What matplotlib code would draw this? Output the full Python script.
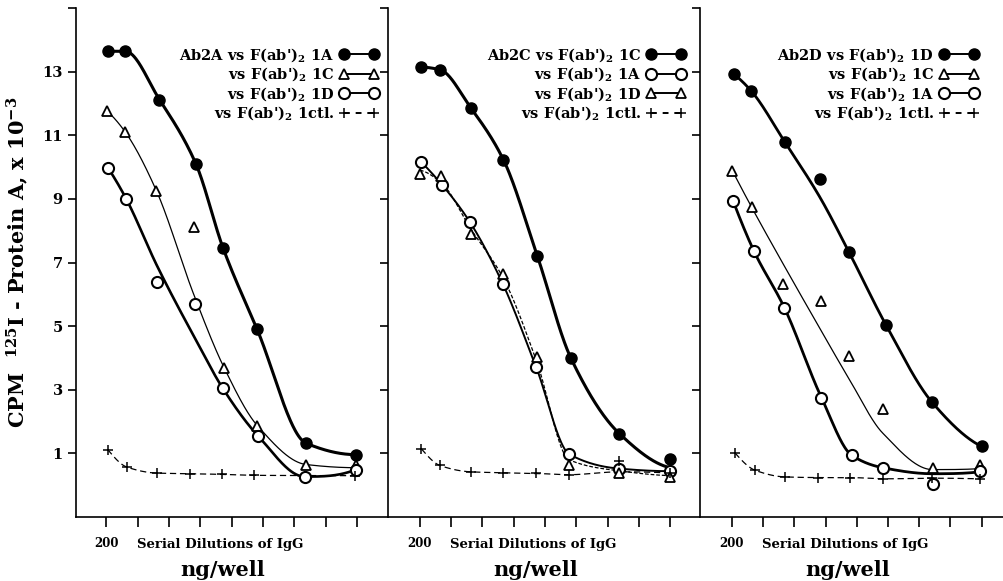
import numpy as np
import matplotlib
matplotlib.use("Agg")
import matplotlib.pyplot as plt
from matplotlib.lines import Line2D

plt.rcParams['font.family'] = ['DejaVu Serif']
plt.rcParams['font.weight'] = 'bold'
plt.rcParams['mathtext.fontset'] = 'dejavuserif'

# ---- data (x in dilution steps, 0 = 200 ng/well; y in CPM x 10^-3) ----
# panel 1 : Ab2A
p1_x_1A = [0.05, 0.61, 1.70, 2.86, 3.72, 4.81, 6.37, 7.96]
p1_y_1A = [13.64, 13.64, 12.12, 10.10, 7.47, 4.90, 1.32, 0.96]
p1_x_1C = [0.04, 0.61, 1.60, 2.79, 3.77, 4.82, 6.37, 7.95]
p1_y_1C = [11.75, 11.10, 9.26, 8.12, 3.67, 1.87, 0.65, 0.65]
p1_fit_1C = [11.75, 11.10, 9.26, 6.00, 3.67, 1.87, 0.65, 0.55]
p1_x_1D = [0.07, 0.64, 1.62, 2.84, 3.72, 4.84, 6.32, 7.95]
p1_y_1D = [9.96, 9.00, 6.39, 5.71, 3.04, 1.55, 0.27, 0.49]
p1_fit_1D = [9.96, 9.00, 6.90, 4.60, 3.04, 1.55, 0.27, 0.49]
p1_x_ctl = [0.05, 0.66, 1.62, 2.68, 3.69, 4.72, 7.93]
p1_y_ctl = [1.12, 0.57, 0.38, 0.36, 0.34, 0.31, 0.30]

# panel 2 : Ab2C
p2_x_1C = [0.05, 0.64, 1.62, 2.67, 3.75, 4.83, 6.38, 8.00]
p2_y_1C = [13.14, 13.06, 11.87, 10.23, 7.22, 3.99, 1.62, 0.83]
p2_fit_1C = [13.14, 13.06, 11.87, 10.23, 7.22, 3.99, 1.62, 0.55]
p2_x_1A = [0.05, 0.71, 1.60, 2.65, 3.71, 4.78, 6.38, 8.00]
p2_y_1A = [10.15, 9.44, 8.27, 6.33, 3.73, 0.97, 0.52, 0.44]
p2_x_1D = [0.00, 0.69, 1.63, 2.67, 3.73, 4.77, 6.38, 8.00]
p2_y_1D = [9.79, 9.73, 7.90, 6.65, 4.03, 0.65, 0.37, 0.25]
p2_fit_1D = [9.90, 9.50, 8.05, 6.50, 3.90, 0.80, 0.45, 0.30]
p2_x_ctl = [0.05, 0.64, 1.62, 2.67, 3.71, 4.77, 6.38, 8.00]
p2_y_ctl = [1.14, 0.62, 0.42, 0.39, 0.37, 0.33, 0.75, 0.38]
p2_fit_ctl = [1.14, 0.62, 0.42, 0.39, 0.37, 0.33, 0.42, 0.38]

# panel 3 : Ab2D
p3_x_1D = [0.06, 0.62, 1.70, 2.82, 3.75, 4.93, 6.42, 8.00]
p3_y_1D = [12.92, 12.39, 10.78, 9.63, 7.33, 5.05, 2.60, 1.22]
p3_fit_1D = [12.92, 12.39, 10.78, 9.05, 7.33, 5.05, 2.60, 1.22]
p3_x_1C = [0.01, 0.63, 1.65, 2.84, 3.76, 4.83, 6.43, 7.95]
p3_y_1C = [9.89, 8.74, 6.31, 5.79, 4.05, 2.40, 0.53, 0.65]
p3_fit_1C = [9.89, 8.74, 6.94, 4.89, 3.33, 1.64, 0.49, 0.52]
p3_x_1A = [0.04, 0.71, 1.68, 2.87, 3.84, 4.83, 6.43, 7.95]
p3_y_1A = [8.93, 7.35, 5.58, 2.75, 0.94, 0.55, 0.05, 0.44]
p3_fit_1A = [8.93, 7.35, 5.58, 2.75, 0.94, 0.55, 0.36, 0.42]
p3_x_ctl = [0.10, 0.74, 1.70, 2.77, 3.78, 4.85, 6.42, 7.95]
p3_y_ctl = [1.01, 0.47, 0.26, 0.24, 0.24, 0.20, 0.22, 0.20]

yticks = [1, 3, 5, 7, 9, 11, 13, 15]
ytick_labels = ['1', '3', '5', '7', '9', '11', '13', '']
xticks = list(range(9))
xtick_labels = ['200', '', '', '', '', '', '', '', '']

F2 = r"F(ab')$_\mathbf{2}$"


def smooth(x, y, n=300):
    # monotone cubic (pchip) through the curve knots
    x = np.asarray(x, float)
    y = np.asarray(y, float)
    h = np.diff(x)
    d = np.diff(y) / h
    m = np.zeros_like(y)
    for k in range(1, len(x) - 1):
        if d[k - 1] * d[k] > 0:
            w1 = 2 * h[k] + h[k - 1]
            w2 = h[k] + 2 * h[k - 1]
            m[k] = (w1 + w2) / (w1 / d[k - 1] + w2 / d[k])
    for i, (h0, h1, d0, d1) in [(0, (h[0], h[1], d[0], d[1])),
                                (-1, (h[-1], h[-2], d[-1], d[-2]))]:
        e = ((2 * h0 + h1) * d0 - h0 * d1) / (h0 + h1)
        if np.sign(e) != np.sign(d0):
            e = 0.0
        elif np.sign(d0) != np.sign(d1) and abs(e) > 3 * abs(d0):
            e = 3 * d0
        m[i] = e
    xs = np.linspace(x[0], x[-1], n)
    idx = np.clip(np.searchsorted(x, xs) - 1, 0, len(x) - 2)
    t = (xs - x[idx]) / h[idx]
    ys = ((2 * t**3 - 3 * t**2 + 1) * y[idx] + (t**3 - 2 * t**2 + t) * h[idx] * m[idx]
          + (-2 * t**3 + 3 * t**2) * y[idx + 1] + (t**3 - t**2) * h[idx] * m[idx + 1])
    return xs, ys


MARK = {
    'filled': dict(marker='o', ms=8, mfc='black', mec='black', mew=1.0),
    'open': dict(marker='o', ms=8, mfc='white', mec='black', mew=1.5),
    'tri': dict(marker='^', ms=6.5, mfc='white', mec='black', mew=1.3),
    'ctl': dict(marker='+', ms=6.5, mfc='black', mec='black', mew=1.1),
}


def series(ax, x, y, kind, lw, fit=None, ls='-'):
    xs, ys = smooth(x, fit if fit is not None else y)
    ax.plot(xs, ys, color='black', lw=lw, ls=ls, zorder=2)
    ax.plot(x, y, ls='none', zorder=3, **MARK[kind])


def handle(kind):
    ls = (0, (3, 3)) if kind == 'ctl' else '-'
    return Line2D([], [], color='black', lw=1.4, ls=ls, **MARK[kind])


fig = plt.figure(figsize=(10.04, 5.81), dpi=100)
W, H = 1004.0, 581.0
bot, top = (H - 517) / H, (H - 8) / H
ax1 = fig.add_axes([76 / W, bot, 312 / W, top - bot])
ax2 = fig.add_axes([388 / W, bot, 311.5 / W, top - bot])
ax3 = fig.add_axes([699.5 / W, bot, 304.5 / W, top - bot])
xlims = [(-0.96, 8.98), (-1.02, 8.94), (-1.04, 8.72)]

series(ax1, p1_x_1A, p1_y_1A, 'filled', 2.2)
series(ax1, p1_x_1C, p1_y_1C, 'tri', 0.9, fit=p1_fit_1C)
series(ax1, p1_x_1D, p1_y_1D, 'open', 1.9, fit=p1_fit_1D)
series(ax1, p1_x_ctl, p1_y_ctl, 'ctl', 0.9, ls=(0, (5, 3)))

series(ax2, p2_x_1C, p2_y_1C, 'filled', 2.2, fit=p2_fit_1C)
series(ax2, p2_x_1A, p2_y_1A, 'open', 1.4)
series(ax2, p2_x_1D, p2_y_1D, 'tri', 0.9, fit=p2_fit_1D, ls=(0, (3, 1.5)))
series(ax2, p2_x_ctl, p2_y_ctl, 'ctl', 0.9, fit=p2_fit_ctl, ls=(0, (5, 3)))

series(ax3, p3_x_1D, p3_y_1D, 'filled', 2.0, fit=p3_fit_1D)
series(ax3, p3_x_1C, p3_y_1C, 'tri', 0.9, fit=p3_fit_1C)
series(ax3, p3_x_1A, p3_y_1A, 'open', 2.0, fit=p3_fit_1A)
series(ax3, p3_x_ctl, p3_y_ctl, 'ctl', 0.9, ls=(0, (5, 3)))

legends = [
    (ax1, 378, [("Ab2A vs " + F2 + " 1A", 'filled'), ("vs " + F2 + " 1C", 'tri'),
                ("vs " + F2 + " 1D", 'open'), ("vs " + F2 + " 1ctl.", 'ctl')]),
    (ax2, 685, [("Ab2C vs " + F2 + " 1C", 'filled'), ("vs " + F2 + " 1A", 'open'),
                ("vs " + F2 + " 1D", 'tri'), ("vs " + F2 + " 1ctl.", 'ctl')]),
    (ax3, 978, [("Ab2D vs " + F2 + " 1D", 'filled'), ("vs " + F2 + " 1C", 'tri'),
                ("vs " + F2 + " 1A", 'open'), ("vs " + F2 + " 1ctl.", 'ctl')]),
]
for ax, xr, entries in legends:
    ax.legend([handle(k) for _, k in entries], [t for t, _ in entries],
              loc='upper right', bbox_to_anchor=(xr / W, (H - 46) / H),
              bbox_transform=fig.transFigure, frameon=False, markerfirst=False,
              numpoints=2, handlelength=2.6, handletextpad=0.4, labelspacing=0.12,
              borderpad=0, borderaxespad=0, prop=dict(size=10.5, weight='bold'))

for i, ax in enumerate([ax1, ax2, ax3]):
    ax.set_xlim(*xlims[i])
    ax.set_ylim(-1, 15)
    for s in ['top', 'right']:
        ax.spines[s].set_visible(False)
    for s in ['left', 'bottom']:
        ax.spines[s].set_linewidth(1.2)
    ax.set_yticks(yticks)
    ax.set_yticklabels(ytick_labels if i == 0 else [''] * len(yticks))
    ax.tick_params(axis='y', direction='out', length=6, width=1.2, labelsize=10.5)
    ax.set_xticks(xticks)
    ax.set_xticklabels(xtick_labels)
    ax.tick_params(axis='x', direction='out', length=7.5, width=1.2, labelsize=8.5, pad=7)
    ax.text(0.97, -0.041, "Serial Dilutions of IgG", transform=ax.get_xaxis_transform(),
            ha='left', va='top', fontsize=9.5, fontweight='bold')
    ax.text(3.7, -0.085, "ng/well", transform=ax.get_xaxis_transform(),
            ha='center', va='top', fontsize=15, fontweight='bold')

ax1.set_ylabel(r"CPM  $^{\mathbf{125}}$I - Protein A, x 10$^{\mathbf{-3}}$",
               fontsize=15, fontweight='bold')
ax1.yaxis.set_label_coords(-0.145, 0.5)

fig.savefig("out.png", dpi=100)
